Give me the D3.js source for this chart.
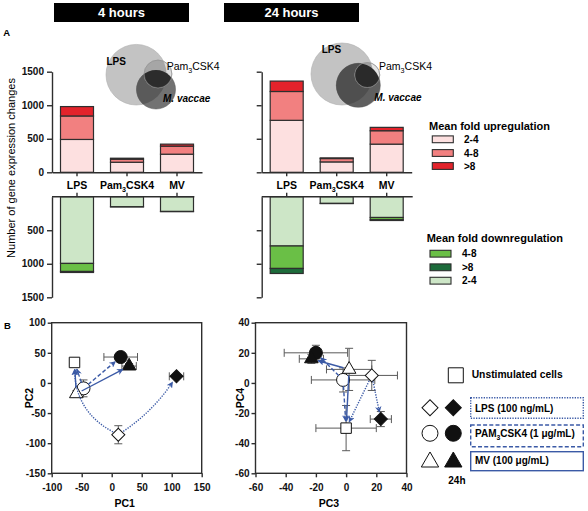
<!DOCTYPE html>
<html><head><meta charset="utf-8">
<script src="https://cdn.jsdelivr.net/npm/d3@7"></script>
<style>body{margin:0;background:#fff}svg{display:block}text{font-family:"Liberation Sans",Arial,sans-serif}</style>
</head><body><svg id="c" width="588" height="511"></svg>
<script>
// ---------------- DATA ----------------
const categories = ["LPS", "Pam3CSK4", "MV"];
const foldLevels = ["2-4", "4-8", ">8"];           // stacking order away from axis
const downLegendOrder = [1, 2, 0];                  // legend shows 4-8, >8, 2-4
const timepoints = ["4 hours", "24 hours"];
const barTicks = [0, 500, 1000, 1500];
// per category: [2-4, 4-8, >8]
const up4h   = [[490, 350, 140], [150, 45, 15], [270, 120, 30]];
const down4h = [[995, 120, 15],  [150, 2, 0],   [220, 3, 0]];
const up24h  = [[775, 430, 155], [155, 50, 10], [420, 200, 50]];
const down24h= [[735, 335, 75],  [100, 3, 0],   [310, 35, 10]];

const pcNames  = ["Unstim", "LPS 4h", "LPS 24h", "PAM 4h", "PAM 24h", "MV 4h", "MV 24h"];
const pcShape  = ["square", "diamond", "diamond", "circle", "circle", "triangle", "triangle"];
const pcFilled = [false, false, true, false, true, false, true];
const pc1    = [-62, 11, 108, -47, 15, -59, 29];
const pc1Err = [2, 3, 12, 4, 28, 4, 12];
const pc2    = [34, -86, 11, -9, 43, -18, 28];
const pc2Err = [5, 15, 3, 14, 5, 5, 4];
const pc3    = [0, 17, 23, -2, -20, 2, -23];
const pc3Err = [20, 17, 7, 21, 21, 15, 8];
const pc4    = [-30, 5, -24, 2, 20, 9, 16];
const pc4Err = [15, 10, 5, 8, 5, 14, 3];
const pc1Ticks = [-100, -50, 0, 50, 100, 150];
const pc2Ticks = [-150, -100, -50, 0, 50, 100];
const pc34Ticks = [-60, -40, -20, 0, 20, 40];
// arrows: [from index, to index, style]
const arrows = [[1, 0, "dot"], [1, 2, "dot"], [3, 0, "dash"], [3, 4, "dash"], [5, 0, "solid"], [5, 6, "solid"]];
const legendGroups = ["LPS (100 ng/mL)", "PAM3CSK4 (1 \u03bcg/mL)", "MV (100 \u03bcg/mL)"];

// ---------------- STYLE / LAYOUT ----------------
const svg = d3.select("#c");
const defs = svg.append("defs");
const ink = "#2e2e2e";
const blue = "#3b5aa6";
const upColors = ["#fde0e0", "#f28080", "#e3232b"];
const downColors = ["#cde6c7", "#6abf46", "#1d6b3b"];
const FONT = '"Liberation Sans", Arial, sans-serif';

function subText(sel, pre, sub, post, size) {
  sel.append("tspan").text(pre);
  sel.append("tspan").attr("dy", size * 0.3).attr("font-size", size * 0.68).text(sub);
  sel.append("tspan").attr("dy", -size * 0.3).text(post);
  return sel;
}

// Title boxes
const titleLayout = [[54, 3, 135, 19], [224, 3, 135, 19]];
timepoints.forEach((t, i) => {
  const [x, y, w, h] = titleLayout[i];
  svg.append("rect").attr("x", x).attr("y", y).attr("width", w).attr("height", h).attr("fill", "#000");
  svg.append("text").attr("x", x + w / 2).attr("y", y + h / 2 + 4.6).attr("text-anchor", "middle")
    .attr("fill", "#fff").attr("font-weight", "bold").attr("font-size", 13).text(t);
});
svg.append("text").attr("x", 3.3).attr("y", 36).attr("font-weight", "bold").attr("font-size", 9.5).text("A");
svg.append("text").attr("x", 4).attr("y", 328.5).attr("font-weight", "bold").attr("font-size", 9.5).text("B");

// Venn diagrams
function venn(id, c, cols) {
  const g = svg.append("g");
  ["LPS", "MV", "Pam"].forEach(k => defs.append("clipPath").attr("id", id + k)
    .append("circle").attr("cx", c[k][0]).attr("cy", c[k][1]).attr("r", c[k][2]));
  const circ = k => g.append("circle").attr("cx", c[k][0]).attr("cy", c[k][1]).attr("r", c[k][2]);
  circ("LPS").attr("fill", cols.lps).attr("stroke", "#b0b0b0").attr("stroke-width", 0.6);
  circ("MV").attr("fill", cols.mv).attr("stroke", "#555").attr("stroke-width", 0.5);
  circ("MV").attr("fill", cols.lpsmv).attr("clip-path", `url(#${id}LPS)`);
  circ("Pam").attr("fill", cols.pam).attr("stroke", "#9a9a9a").attr("stroke-width", 0.6);
  circ("Pam").attr("fill", cols.pamlps).attr("clip-path", `url(#${id}LPS)`);
  circ("Pam").attr("fill", cols.pammv).attr("clip-path", `url(#${id}MV)`);
  circ("Pam").attr("fill", "none").attr("stroke", "#888").attr("stroke-width", 0.5);
  g.append("text").attr("x", c.labels[0][0]).attr("y", c.labels[0][1]).attr("font-weight", "bold").attr("font-size", 10).text("LPS");
  subText(g.append("text").attr("x", c.labels[1][0]).attr("y", c.labels[1][1]).attr("font-size", 10.5), "Pam", "3", "CSK4", 10.5);
  g.append("text").attr("x", c.labels[2][0]).attr("y", c.labels[2][1]).attr("font-weight", "bold")
    .attr("font-style", "italic").attr("font-size", 10).text("M. vaccae");
}
venn("v4", { LPS: [136.3, 74.7, 30.3], Pam: [158, 74, 13.9], MV: [156, 89.5, 19.5],
  labels: [[106.5, 65], [166.7, 70], [163, 101.5]] },
  { lps: "#c3c3c3", mv: "#727272", lpsmv: "#5a5a5a", pam: "#dedede", pamlps: "#a6a6a6", pammv: "#2c2c2c" });
venn("v24", { LPS: [342, 74, 31], Pam: [367.3, 75, 12.5], MV: [358.3, 85.3, 22],
  labels: [[321.7, 52.7], [379, 70], [374.3, 100.7]] },
  { lps: "#c3c3c3", mv: "#5f5f5f", lpsmv: "#4f4f4f", pam: "#e4e4e4", pamlps: "#a0a0a0", pammv: "#2a2a2a" });

// Bar panels
const yUp = d3.scaleLinear().domain([0, 1500]).range([172.3, 71.7]);
const yDown = d3.scaleLinear().domain([0, 1500]).range([196.7, 297.3]);

function styleAxis(g, size) {
  g.attr("font-family", FONT).attr("font-size", size).attr("font-weight", "bold");
  g.selectAll("path,line").attr("stroke", ink).attr("stroke-width", 1.4);
  g.selectAll("text").attr("fill", "#111");
}

function barPanel(x0, upData, downData, showLabels, lowerEnd) {
  const x = d3.scaleBand().domain(categories).range([x0, x0 + 150]).paddingInner(0.34).paddingOuter(0.17);
  const g = svg.append("g");
  categories.forEach((c, i) => {
    let cum = 0;
    upData[i].forEach((v, j) => {
      if (v <= 0) return;
      g.append("rect").attr("x", x(c)).attr("width", x.bandwidth())
        .attr("y", yUp(cum + v)).attr("height", yUp(cum) - yUp(cum + v))
        .attr("fill", upColors[j]).attr("stroke", ink).attr("stroke-width", 1.2);
      cum += v;
    });
    cum = 0;
    downData[i].forEach((v, j) => {
      if (v <= 0) return;
      g.append("rect").attr("x", x(c)).attr("width", x.bandwidth())
        .attr("y", yDown(cum)).attr("height", yDown(cum + v) - yDown(cum))
        .attr("fill", downColors[j]).attr("stroke", ink).attr("stroke-width", 1.2);
      cum += v;
    });
  });
  const fmt = showLabels ? (d => String(d)) : (() => "");
  styleAxis(g.append("g").attr("transform", `translate(${x0},0)`)
    .call(d3.axisLeft(yUp).tickValues(barTicks).tickSize(5).tickSizeOuter(0).tickFormat(fmt)), 10);
  styleAxis(g.append("g").attr("transform", `translate(${x0},0)`)
    .call(d3.axisLeft(yDown).tickValues(barTicks.slice(1)).tickSize(5).tickSizeOuter(0).tickFormat(fmt)), 10);
  styleAxis(g.append("g").attr("transform", `translate(0,${yUp(0)})`)
    .call(d3.axisBottom(x).tickSize(4).tickSizeOuter(0).tickFormat("")), 10);
  const ax = g.append("g").attr("transform", `translate(0,${yDown(0)})`)
    .call(d3.axisTop(x).tickSize(4).tickSizeOuter(0).tickFormat(""));
  ax.select(".domain").remove();
  styleAxis(ax, 10);
  g.append("line").attr("x1", x0).attr("x2", lowerEnd).attr("y1", yDown(0)).attr("y2", yDown(0))
    .attr("stroke", ink).attr("stroke-width", 1.4);
  categories.forEach(c => {
    const t = g.append("text").attr("x", x(c) + x.bandwidth() / 2).attr("y", 189)
      .attr("text-anchor", "middle").attr("font-weight", "bold").attr("font-size", 10.5);
    if (c === "Pam3CSK4") subText(t, "Pam", "3", "CSK4", 10.5); else t.text(c);
  });
}
barPanel(52, up4h, down4h, true, 194.3);
barPanel(261.7, up24h, down24h, false, 412.7);

svg.append("text").attr("transform", "translate(15,168) rotate(-90)").attr("text-anchor", "middle")
  .attr("font-size", 11).text("Number of gene expression changes");

// Bar legends
function barLegend(title, tx, ty, sx, lx, rowsY, colors, labels) {
  svg.append("text").attr("x", tx).attr("y", ty).attr("font-weight", "bold").attr("font-size", 11).text(title);
  rowsY.forEach((y, i) => {
    svg.append("rect").attr("x", sx).attr("y", y - 3.4).attr("width", 21).attr("height", 6.8)
      .attr("fill", colors[i]).attr("stroke", ink).attr("stroke-width", 1.1);
    svg.append("text").attr("x", lx).attr("y", y + 3.6).attr("font-weight", "bold").attr("font-size", 10).text(labels[i]);
  });
}
barLegend("Mean fold upregulation", 429, 130, 432.3, 464, [139.3, 153, 166], upColors, foldLevels);
barLegend("Mean fold downregulation", 426.7, 242.3, 430, 462, [253.7, 267.3, 280.7],
  downLegendOrder.map(i => downColors[i]), downLegendOrder.map(i => foldLevels[i]));

// ---------------- PCA ----------------
defs.append("marker").attr("id", "ah").attr("viewBox", "0 0 10 10").attr("refX", 9).attr("refY", 5)
  .attr("markerWidth", 6.5).attr("markerHeight", 6.5).attr("markerUnits", "userSpaceOnUse").attr("orient", "auto")
  .append("path").attr("d", "M0,0 L10,5 L0,10 L3,5 Z").attr("fill", blue);
const dashes = { dot: "1.3,1.3", dash: "4,2.2", solid: null };
const symSize = { square: 110, diamond: 85, circle: 133, triangle: 80 };

function symbol(g, shape, filled, cx, cy, size) {
  const type = shape === "circle" ? d3.symbolCircle : shape === "triangle" ? d3.symbolTriangle : d3.symbolSquare;
  g.append("path").attr("d", d3.symbol(type, size)())
    .attr("transform", `translate(${cx},${cy})` + (shape === "diamond" ? " rotate(45)" : ""))
    .attr("fill", filled ? "#111" : "#fff").attr("stroke", "#111").attr("stroke-width", 1);
}

function scatter(sx, sy, xv, xe, yv, ye, xt, yt, xLabel, yLabel, yLabelX, bends) {
  const g = svg.append("g");
  const [x0, x1] = sx.range(), [y0, y1] = sy.range();
  // error bars
  xv.forEach((_, i) => {
    const cx = sx(xv[i]), cy = sy(yv[i]);
    const eb = g.append("g").attr("stroke", "#5a5a5a").attr("stroke-width", 1).attr("fill", "none");
    const xa = sx(xv[i] - xe[i]), xb = sx(xv[i] + xe[i]);
    const ya = sy(yv[i] - ye[i]), yb = sy(yv[i] + ye[i]);
    eb.append("line").attr("x1", xa).attr("x2", xb).attr("y1", cy).attr("y2", cy);
    eb.append("line").attr("x1", xa).attr("x2", xa).attr("y1", cy - 4).attr("y2", cy + 4);
    eb.append("line").attr("x1", xb).attr("x2", xb).attr("y1", cy - 4).attr("y2", cy + 4);
    eb.append("line").attr("x1", cx).attr("x2", cx).attr("y1", ya).attr("y2", yb);
    eb.append("line").attr("x1", cx - 4).attr("x2", cx + 4).attr("y1", ya).attr("y2", ya);
    eb.append("line").attr("x1", cx - 4).attr("x2", cx + 4).attr("y1", yb).attr("y2", yb);
  });
  // markers
  xv.forEach((_, i) => symbol(g, pcShape[i], pcFilled[i], sx(xv[i]), sy(yv[i]), symSize[pcShape[i]]));
  // arrows
  arrows.forEach(([a, b, st], k) => {
    const P = [sx(xv[a]), sy(yv[a])], Q = [sx(xv[b]), sy(yv[b])];
    const dx = Q[0] - P[0], dy = Q[1] - P[1], L = Math.hypot(dx, dy);
    const C = [(P[0] + Q[0]) / 2 - dy / L * bends[k], (P[1] + Q[1]) / 2 + dx / L * bends[k]];
    const toward = (S, T, r) => { const l = Math.hypot(T[0] - S[0], T[1] - S[1]); return [S[0] + (T[0] - S[0]) / l * r, S[1] + (T[1] - S[1]) / l * r]; };
    const Ps = toward(P, C, 6), Qs = toward(Q, C, 7);
    const p = d3.path(); p.moveTo(Ps[0], Ps[1]); p.quadraticCurveTo(C[0], C[1], Qs[0], Qs[1]);
    g.append("path").attr("d", p.toString()).attr("fill", "none").attr("stroke", blue).attr("stroke-width", 1.4)
      .attr("stroke-dasharray", dashes[st]).attr("marker-end", "url(#ah)");
  });
  // frame & axes
  g.append("rect").attr("x", x0).attr("y", y1).attr("width", x1 - x0).attr("height", y0 - y1)
    .attr("fill", "none").attr("stroke", ink).attr("stroke-width", 1.4);
  const ax = g.append("g").attr("transform", `translate(0,${y0})`)
    .call(d3.axisBottom(sx).tickValues(xt).tickSize(4).tickPadding(7).tickSizeOuter(0).tickFormat(d => String(d)));
  ax.select(".domain").remove(); styleAxis(ax, 10);
  const ay = g.append("g").attr("transform", `translate(${x0},0)`)
    .call(d3.axisLeft(sy).tickValues(yt).tickSize(4).tickPadding(2).tickSizeOuter(0).tickFormat(d => String(d)));
  ay.select(".domain").remove(); styleAxis(ay, 10);
  g.append("text").attr("x", (x0 + x1) / 2 - 2).attr("y", 506.7).attr("text-anchor", "middle")
    .attr("font-weight", "bold").attr("font-size", 10.5).text(xLabel);
  g.append("text").attr("transform", `translate(${yLabelX},${(y0 + y1) / 2}) rotate(-90)`).attr("text-anchor", "middle")
    .attr("font-weight", "bold").attr("font-size", 10.5).text(yLabel);
}
const sx1 = d3.scaleLinear().domain([-100, 150]).range([51.7, 201.7]);
const sy1 = d3.scaleLinear().domain([-150, 100]).range([473.3, 322.7]);
const sx2 = d3.scaleLinear().domain([-60, 40]).range([255.5, 406.5]);
const sy2 = d3.scaleLinear().domain([-60, 40]).range([473.3, 322.7]);
scatter(sx1, sy1, pc1, pc1Err, pc2, pc2Err, pc1Ticks, pc2Ticks, "PC1", "PC2", 33.3, [-25, 8, 0, 0, 0, 0]);
scatter(sx2, sy2, pc3, pc3Err, pc4, pc4Err, pc34Ticks, pc34Ticks, "PC3", "PC4", 244, [0, 0, 0, 0, 0, 0]);

// PCA legend
const lg = svg.append("g");
symbol(lg, "square", false, 455.8, 375.3, 225);
lg.append("text").attr("x", 471.7).attr("y", 378.3).attr("font-weight", "bold").attr("font-size", 10.3).text("Unstimulated cells");
const legShapes = ["diamond", "circle", "triangle"];
const legSizes = { diamond: 128, circle: 200, triangle: 130 };
const legY = [407.7, 433.3, 462];
const boxY = [[397.7, 20.6], [425, 21.7], [451.7, 19]];
const boxStyle = ["dot", "dash", "solid"];
const textY = [411.5, 437.3, 464];
legendGroups.forEach((name, i) => {
  symbol(lg, legShapes[i], false, 430, legY[i], legSizes[legShapes[i]]);
  symbol(lg, legShapes[i], true, 453.3, legY[i], legSizes[legShapes[i]]);
  lg.append("rect").attr("x", 470.7).attr("y", boxY[i][0]).attr("width", 112.6).attr("height", boxY[i][1])
    .attr("fill", "none").attr("stroke", blue).attr("stroke-width", 1.4).attr("stroke-dasharray", dashes[boxStyle[i]]);
  const t = lg.append("text").attr("x", 475).attr("y", textY[i]).attr("font-weight", "bold").attr("font-size", 10);
  if (name.startsWith("PAM3")) subText(t, "PAM", "3", name.slice(4), 10); else t.text(name);
});
lg.append("text").attr("x", 448.3).attr("y", 483.5).attr("font-weight", "bold").attr("font-size", 10).text("24h");
</script></body></html>
